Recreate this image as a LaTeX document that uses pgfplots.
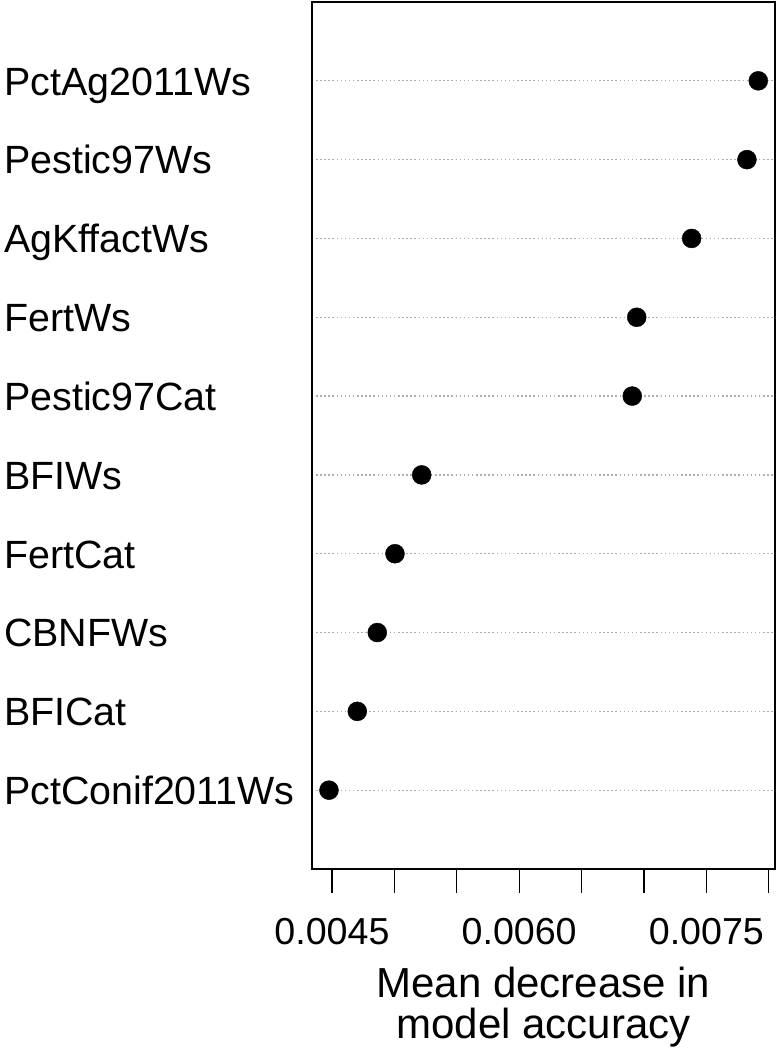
\documentclass[border=0pt]{standalone}
\usepackage{fontspec}
\setmainfont{Liberation Sans}
\usepackage{pgfplots}
\pgfplotsset{compat=1.18}
\begin{document}
\begin{tikzpicture}
\path[use as bounding box] (0,0) rectangle (778pt,1050pt);
\begin{axis}[
  at={(312pt,181pt)}, anchor=south west,
  scale only axis, width=463pt, height=867pt,
  xmin=0.00434, xmax=0.00805, ymin=0, ymax=11,
  scaled ticks=false,
  font=\fontsize{37.6}{45}\selectfont,
  axis line style={line width=1.3pt},
  tick align=outside, major tick length=24pt,
  xtick={0.0045,0.005,0.0055,0.006,0.0065,0.007,0.0075,0.008},
  xticklabels={0.0045,,,0.0060,,,0.0075,},
  xtick style={line width=1.3pt, black},
  xtick pos=bottom,
  xticklabel style={anchor=base, inner sep=0pt, yshift=-52pt},
  ytick={1,...,10},
  yticklabels={PctConif2011Ws,BFICat,CBNFWs,FertCat,BFIWs,Pestic97Cat,FertWs,AgKffactWs,Pestic97Ws,PctAg2011Ws},
  ytick style={draw=none},
  ytick pos=left,
  yticklabel style={anchor=base west, inner sep=0pt, xshift=-284pt, yshift=-14.3pt, font=\fontsize{39.4}{45}\selectfont},
  ymajorgrids,
  major grid style={color=black!32, line width=1.2pt, dash pattern=on 1.5pt off 2.6pt},
  xlabel={Mean decrease in\\model accuracy},
  xlabel style={align=center, at={(axis description cs:0.5,0)}, anchor=north, inner sep=0pt, yshift=-98pt, font=\fontsize{42}{41}\selectfont},
]
\addplot[only marks, mark=*, mark size=9.5pt, black] coordinates {
(0.004476,1) (0.004703,2) (0.004863,3) (0.005005,4) (0.005219,5)
(0.006906,6) (0.006942,7) (0.007382,8) (0.007825,9) (0.007916,10)
};
\end{axis}
\end{tikzpicture}
\end{document}
